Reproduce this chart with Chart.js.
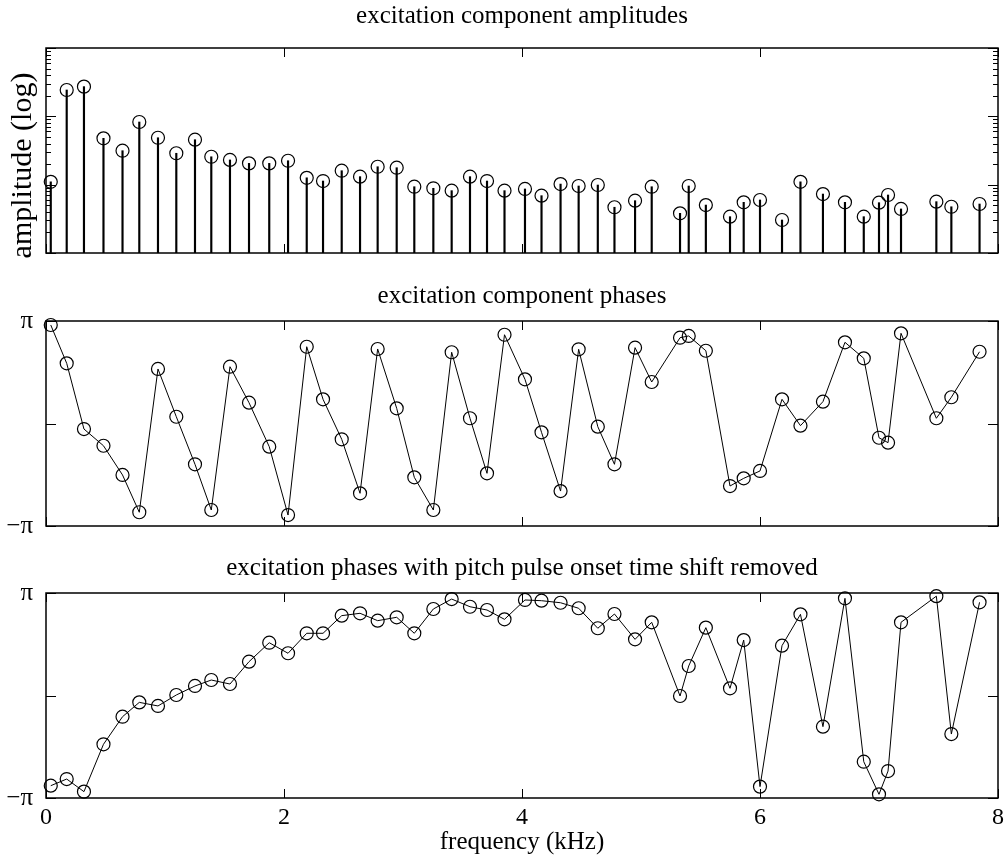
<!DOCTYPE html>
<html>
<head>
<meta charset="utf-8">
<script src="https://cdn.jsdelivr.net/npm/chart.js@4"></script>
<style>
  body { margin: 0; background: #fff; }
  .panel { position: absolute; left: 0; }
</style>
</head>
<body>
<div class="panel" style="top:0px"><canvas id="ampChart" width="1008" height="270"></canvas></div>
<div class="panel" style="top:270px"><canvas id="phaseChart" width="1008" height="272"></canvas></div>
<div class="panel" style="top:542px"><canvas id="shiftChart" width="1008" height="323"></canvas></div>
<script>
// harmonic frequencies (kHz)
const freqKHz = [0.040, 0.174, 0.319, 0.483, 0.643, 0.784, 0.941, 1.095, 1.252, 1.389,
  1.546, 1.706, 1.876, 2.034, 2.191, 2.328, 2.485, 2.639, 2.787, 2.947,
  3.095, 3.255, 3.409, 3.563, 3.706, 3.853, 4.025, 4.164, 4.324, 4.476,
  4.637, 4.777, 4.950, 5.090, 5.328, 5.401, 5.545, 5.748, 5.863, 6.000,
  6.185, 6.340, 6.529, 6.714, 6.872, 7.000, 7.076, 7.185, 7.482, 7.608, 7.845];

// component amplitudes (relative, log axis)
const amplitudes = [11.0, 243, 272, 47.7, 31.4, 82.6, 48.6, 28.8, 45.5, 25.6,
  23.0, 20.5, 20.5, 22.4, 12.6, 11.3, 16.0, 13.1, 18.3, 17.7,
  9.33, 8.85, 8.17, 13.1, 11.3, 8.17, 8.65, 6.90, 10.2, 9.56,
  9.88, 4.67, 5.83, 9.33, 3.81, 9.56, 5.03, 3.40, 5.52, 5.97,
  3.04, 11.0, 7.29, 5.52, 3.40, 5.45, 7.06, 4.41, 5.64, 4.75, 5.21];

// component phases, in units of pi
const phases = [0.961, 0.587, -0.054, -0.217, -0.502, -0.866, 0.532, 0.066, -0.398, -0.844,
  0.554, 0.203, -0.226, -0.893, 0.749, 0.236, -0.154, -0.681, 0.727, 0.148,
  -0.525, -0.844, 0.695, 0.051, -0.486, 0.866, 0.431, -0.086, -0.659, 0.724,
  -0.031, -0.398, 0.740, 0.405, 0.837, 0.854, 0.710, -0.610, -0.535, -0.463,
  0.236, -0.021, 0.213, 0.792, 0.636, -0.139, -0.187, 0.880, 0.051, 0.256, 0.700];

// phases with onset time shift removed, in units of pi
const shiftedPhases = [-0.880, -0.815, -0.938, -0.476, -0.207, -0.067, -0.102, 0.005, 0.093, 0.151,
  0.112, 0.330, 0.515, 0.412, 0.607, 0.607, 0.779, 0.802, 0.730, 0.763,
  0.607, 0.844, 0.941, 0.866, 0.834, 0.743, 0.932, 0.925, 0.905, 0.851,
  0.656, 0.795, 0.548, 0.714, -0.005, 0.288, 0.662, 0.070, 0.541, -0.889,
  0.486, 0.792, -0.304, 0.948, -0.646, -0.964, -0.737, 0.714, 0.969, -0.376, 0.909];

const freqTicks = [0, 2, 4, 6, 8];
const ampTicks = [1, 2, 3, 4, 5, 6, 7, 8, 9, 10, 20, 30, 40, 50, 60, 70, 80, 90,
  100, 200, 300, 400, 500, 600, 700, 800, 900, 1000];
const phaseTicks = [-1, 0, 1];
const phaseTickLabels = ['\u2212\u03c0', '', '\u03c0'];

const SERIF = '"Liberation Serif", "DejaVu Serif", serif';
Chart.defaults.font.family = SERIF;
Chart.defaults.font.size = 24;
Chart.defaults.color = '#000';

// matlab-ish box with inward ticks on all four sides, plus the panel title
const boxTicks = {
  id: 'boxTicks',
  afterDatasetsDraw(chart, args, opts) {
    const {ctx, chartArea: a} = chart;
    const x = chart.scales.x, y = chart.scales.y;
    ctx.save();
    ctx.strokeStyle = '#000';
    ctx.lineWidth = 1;
    ctx.beginPath();
    freqTicks.forEach(v => {
      const px = Math.round(x.getPixelForValue(v)) + 0.5;
      ctx.moveTo(px, a.bottom); ctx.lineTo(px, a.bottom - 9);
      ctx.moveTo(px, a.top); ctx.lineTo(px, a.top + 9);
    });
    opts.yTicks.forEach(v => {
      const py = Math.round(y.getPixelForValue(v)) + 0.5;
      const major = opts.log ? Number.isInteger(Math.log10(v)) : true;
      const len = major ? 10 : 5;
      ctx.moveTo(a.left, py); ctx.lineTo(a.left + len, py);
      ctx.moveTo(a.right, py); ctx.lineTo(a.right - len, py);
    });
    ctx.stroke();
    ctx.lineWidth = 1.5;
    ctx.strokeRect(a.left, a.top, a.right - a.left, a.bottom - a.top);

    ctx.fillStyle = '#000';
    ctx.font = '25px ' + SERIF;
    ctx.textAlign = 'center';
    ctx.textBaseline = 'alphabetic';
    ctx.fillText(opts.title, (a.left + a.right) / 2, a.top - opts.titleGap);
    ctx.restore();
  }
};

// fixed axis width, and no extra room for half-labels sticking out
function fixWidth(s) {
  s.width = 46;
  s.paddingTop = 0; s.paddingBottom = 0;
}

function hiddenX() {
  return { type: 'linear', min: 0, max: 8, offset: false, display: false };
}

function phaseY() {
  return {
    type: 'linear', min: -1, max: 1,
    afterFit: fixWidth,
    afterBuildTicks: s => { s.ticks = phaseTicks.map(v => ({ value: v })); },
    grid: { display: false, drawTicks: false },
    border: { display: false },
    ticks: {
      padding: 13,
      font: { size: 25 },
      callback: (v) => phaseTickLabels[phaseTicks.indexOf(v)]
    }
  };
}

function phaseDataset(values) {
  return {
    data: freqKHz.map((f, i) => ({ x: f, y: values[i] })),
    borderColor: '#000', borderWidth: 1,
    pointStyle: 'circle', pointRadius: 6.5,
    pointBorderColor: '#000', pointBorderWidth: 1.2,
    pointBackgroundColor: 'rgba(0,0,0,0)',
    tension: 0, clip: false
  };
}

const common = {
  responsive: false,
  animation: false,
  events: []
};

new Chart(document.getElementById('ampChart'), {
  type: 'bar',
  data: {
    datasets: [{
      type: 'line',
      data: freqKHz.map((f, i) => ({ x: f, y: amplitudes[i] })),
      showLine: false,
      pointStyle: 'circle', pointRadius: 6.5,
      pointBorderColor: '#000', pointBorderWidth: 1.2,
      pointBackgroundColor: 'rgba(0,0,0,0)',
      clip: false
    }, {
      data: freqKHz.map((f, i) => ({ x: f, y: amplitudes[i] })),
      backgroundColor: '#000',
      barThickness: 1.5,
      borderWidth: 0
    }]
  },
  options: {
    ...common,
    layout: { padding: { top: 48, right: 10, bottom: 17 } },
    plugins: {
      legend: { display: false },
      tooltip: { enabled: false },
      title: { display: false },
      boxTicks: { yTicks: ampTicks, log: true, title: 'excitation component amplitudes', titleGap: 25 }
    },
    scales: {
      x: hiddenX(),
      y: {
        type: 'logarithmic', min: 1, max: 1000,
        afterFit: fixWidth,
        grid: { display: false, drawTicks: false },
        border: { display: false },
        ticks: { display: false },
        title: { display: true, text: 'amplitude (log)\u2002\u2002', font: { size: 30 }, padding: { top: 5, bottom: 0 } }
      }
    }
  },
  plugins: [boxTicks]
});

new Chart(document.getElementById('phaseChart'), {
  type: 'line',
  data: { datasets: [phaseDataset(phases)] },
  options: {
    ...common,
    layout: { padding: { top: 51, right: 10, bottom: 16 } },
    plugins: {
      legend: { display: false },
      tooltip: { enabled: false },
      boxTicks: { yTicks: phaseTicks, log: false, title: 'excitation component phases', titleGap: 18 }
    },
    scales: { x: hiddenX(), y: phaseY() }
  },
  plugins: [boxTicks]
});

new Chart(document.getElementById('shiftChart'), {
  type: 'line',
  data: { datasets: [phaseDataset(shiftedPhases)] },
  options: {
    ...common,
    layout: { padding: { top: 51, right: 10, bottom: 0 } },
    plugins: {
      legend: { display: false },
      tooltip: { enabled: false },
      boxTicks: { yTicks: phaseTicks, log: false, title: 'excitation phases with pitch pulse onset time shift removed', titleGap: 18 }
    },
    scales: {
      x: {
        type: 'linear', min: 0, max: 8, offset: false,
        afterFit: s => { s.height = 67; s.paddingLeft = 0; s.paddingRight = 0; },
        afterBuildTicks: s => { s.ticks = freqTicks.map(v => ({ value: v })); },
        grid: { display: false, drawTicks: false },
        border: { display: false },
        ticks: { padding: 5, font: { size: 24 }, maxRotation: 0 },
        title: { display: true, text: 'frequency (kHz)', font: { size: 25 }, padding: { top: 0, bottom: 8 } }
      },
      y: phaseY()
    }
  },
  plugins: [boxTicks]
});
</script>
</body>
</html>
